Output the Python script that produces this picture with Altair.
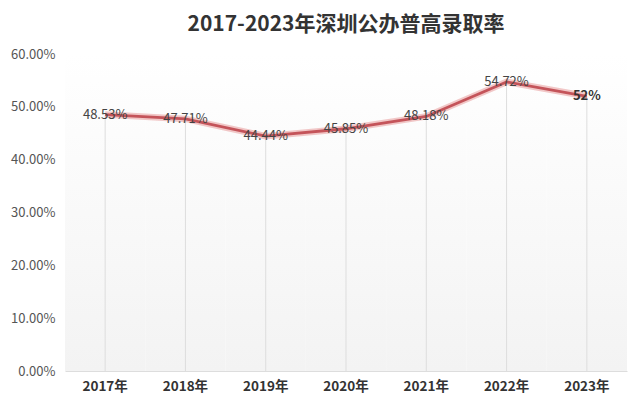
import altair as alt
import pandas as pd

years = ["2017年", "2018年", "2019年", "2020年", "2021年", "2022年", "2023年"]
rates = [48.53, 47.71, 44.44, 45.85, 48.18, 54.72, 52.0]
labels = ["48.53%", "47.71%", "44.44%", "45.85%", "48.18%", "54.72%", "52%"]
bold = [False, False, False, False, False, False, True]

df = pd.DataFrame({"year": years, "rate": rates, "label": labels, "bold": bold, "top": [60] * 7, "zero": [0] * 7})

FONT = "Noto Sans CJK SC"

x = alt.X("year:N", sort=years, title=None,
          scale=alt.Scale(paddingInner=0, paddingOuter=0),
          axis=alt.Axis(labelAngle=0, labelFontWeight="bold", labelFontSize=13.5, labelColor="#333333",
                        domainColor="#dddddd", ticks=False, labelPadding=8, labelFont=FONT))
y_scale = alt.Scale(domain=[0, 60])

base = alt.Chart(df)

bg = base.mark_bar(
    fill=alt.Gradient(gradient="linear",
                      stops=[alt.GradientStop(color="#ffffff", offset=0),
                             alt.GradientStop(color="#f3f3f3", offset=1)],
                      x1=1, x2=1, y1=0, y2=1)
).encode(x=x, y=alt.Y("top:Q", scale=y_scale, title=None,
                       axis=alt.Axis(values=[0, 10, 20, 30, 40, 50, 60], labelExpr="format(datum.value, '.2f') + '%'",
                                     grid=False, domain=False, ticks=False, labelFontSize=13, labelColor="#555555",
                                     labelPadding=10, labelFont=FONT)),
         y2="zero:Q")

rules = base.mark_rule(color="#dddddd", strokeWidth=1).encode(
    x=alt.X("year:N", sort=years), y=alt.Y("zero:Q", scale=y_scale), y2="rate:Q")

halo = base.mark_line(color="#eaa3a3", strokeWidth=6.5, opacity=0.6).encode(
    x=alt.X("year:N", sort=years), y=alt.Y("rate:Q", scale=y_scale))
line = base.mark_line(color="#c4545a", strokeWidth=2.8).encode(
    x=alt.X("year:N", sort=years), y=alt.Y("rate:Q", scale=y_scale))

text_normal = base.transform_filter("!datum.bold").mark_text(
    fontSize=13, color="#444444", font=FONT, baseline="middle", align="center", dy=0).encode(
    x=alt.X("year:N", sort=years), y=alt.Y("rate:Q", scale=y_scale), text="label:N")
text_bold = base.transform_filter("datum.bold").mark_text(
    fontSize=13, color="#333333", font=FONT, fontWeight="bold", baseline="middle", align="center").encode(
    x=alt.X("year:N", sort=years), y=alt.Y("rate:Q", scale=y_scale), text="label:N")

chart = alt.layer(bg, rules, halo, line, text_normal, text_bold).properties(
    width=562, height=317,
    padding={"left": 57, "top": 46, "right": 5, "bottom": 25},
    autosize=alt.AutoSizeParams(type="none"),
    title=alt.TitleParams("2017-2023年深圳公办普高录取率", fontSize=21, fontWeight="bold", color="#333333",
                          font=FONT, anchor="middle", offset=13),
).configure_view(stroke=None)

chart.save("out.html", embed_options={"renderer": "svg", "actions": False})
